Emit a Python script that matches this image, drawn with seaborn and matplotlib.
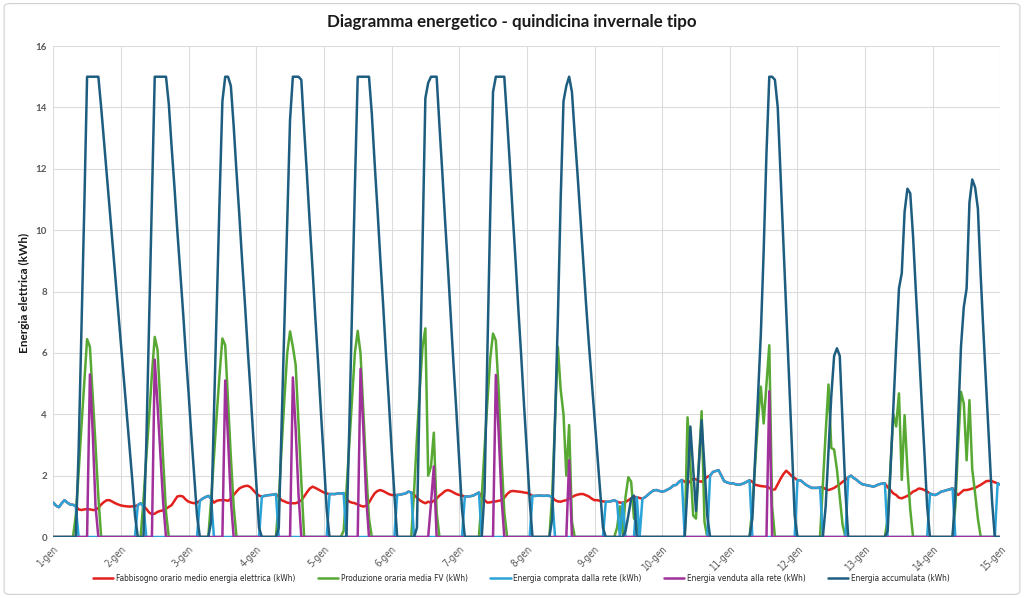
import matplotlib
matplotlib.use("Agg")
import matplotlib.pyplot as plt
import pandas as pd
import seaborn as sns
from matplotlib import font_manager
from matplotlib.font_manager import FontProperties
from matplotlib.patches import FancyBboxPatch

# one line per day (24 hourly values), last value = 15-gen 00:00
fabbisogno = [
    1.12, 1.02, 0.97, 1.1, 1.2, 1.12, 1.06, 1.05, 1.0, 0.9, 0.88, 0.9, 0.91, 0.9, 0.88, 0.88, 0.95, 1.06, 1.14, 1.2, 1.2, 1.15, 1.1, 1.06,
    1.03, 1.01, 1.0, 0.99, 1.0, 1.0, 1.04, 1.1, 1.0, 0.92, 0.8, 0.74, 0.76, 0.82, 0.85, 0.87, 0.92, 0.98, 1.04, 1.18, 1.32, 1.34, 1.32, 1.22,
    1.15, 1.12, 1.1, 1.12, 1.18, 1.25, 1.3, 1.34, 1.25, 1.12, 1.18, 1.2, 1.2, 1.2, 1.18, 1.25, 1.37, 1.48, 1.58, 1.63, 1.66, 1.67, 1.62, 1.52,
    1.42, 1.35, 1.32, 1.34, 1.36, 1.37, 1.38, 1.4, 1.3, 1.2, 1.16, 1.12, 1.1, 1.1, 1.1, 1.14, 1.2, 1.32, 1.46, 1.58, 1.64, 1.6, 1.55, 1.5,
    1.45, 1.42, 1.4, 1.4, 1.4, 1.42, 1.42, 1.43, 1.25, 1.15, 1.12, 1.1, 1.06, 1.02, 0.99, 1.02, 1.12, 1.28, 1.42, 1.5, 1.53, 1.5, 1.45, 1.4,
    1.37, 1.36, 1.37, 1.38, 1.4, 1.42, 1.48, 1.45, 1.38, 1.28, 1.2, 1.14, 1.1, 1.15, 1.12, 1.18, 1.25, 1.35, 1.42, 1.5, 1.53, 1.5, 1.45, 1.4,
    1.37, 1.35, 1.32, 1.32, 1.33, 1.35, 1.4, 1.45, 1.3, 1.2, 1.12, 1.13, 1.15, 1.16, 1.18, 1.2, 1.28, 1.4, 1.48, 1.5, 1.49, 1.48, 1.47, 1.45,
    1.44, 1.4, 1.34, 1.34, 1.35, 1.35, 1.34, 1.35, 1.34, 1.3, 1.2, 1.16, 1.15, 1.18, 1.2, 1.25, 1.3, 1.35, 1.38, 1.4, 1.4, 1.36, 1.32, 1.25,
    1.2, 1.2, 1.18, 1.16, 1.15, 1.15, 1.17, 1.2, 1.15, 1.12, 1.12, 1.14, 1.2, 1.26, 1.3, 1.3, 1.27, 1.25, 1.3, 1.38, 1.46, 1.52, 1.53, 1.5,
    1.48, 1.5, 1.55, 1.6, 1.68, 1.7, 1.8, 1.86, 1.8, 1.75, 1.82, 1.9, 1.88, 1.82, 1.8, 1.88, 1.96, 2.0, 2.12, 2.15, 2.18, 2.0, 1.82, 1.78,
    1.75, 1.75, 1.72, 1.7, 1.72, 1.75, 1.8, 1.85, 1.8, 1.7, 1.68, 1.66, 1.65, 1.64, 1.6, 1.54, 1.55, 1.72, 1.9, 2.05, 2.16, 2.08, 1.98, 1.92,
    1.85, 1.85, 1.78, 1.7, 1.65, 1.6, 1.6, 1.6, 1.62, 1.62, 1.56, 1.53, 1.56, 1.6, 1.66, 1.72, 1.8, 1.86, 1.95, 2.0, 1.92, 1.86, 1.78, 1.72,
    1.7, 1.68, 1.66, 1.64, 1.68, 1.72, 1.74, 1.75, 1.62, 1.53, 1.42, 1.37, 1.28, 1.26, 1.3, 1.34, 1.4, 1.48, 1.52, 1.58, 1.57, 1.53, 1.48, 1.42,
    1.38, 1.37, 1.42, 1.48, 1.5, 1.53, 1.55, 1.59, 1.45, 1.37, 1.45, 1.53, 1.53, 1.55, 1.58, 1.6, 1.65, 1.7, 1.76, 1.82, 1.83, 1.82, 1.78, 1.75,
    1.7,
]

produzione_fv = [
    0, 0, 0, 0, 0, 0, 0, 0, 0.7, 2.1, 3.6, 5.0, 6.45, 6.2, 4.6, 3.0, 1.3, 0, 0, 0, 0, 0, 0, 0,
    0, 0, 0, 0, 0, 0, 0, 0, 1.2, 2.6, 3.9, 5.3, 6.52, 6.1, 4.3, 2.5, 0.8, 0, 0, 0, 0, 0, 0, 0,
    0, 0, 0, 0, 0, 0, 0, 0, 1.2, 2.6, 4.0, 5.3, 6.47, 6.25, 4.4, 2.6, 1.0, 0, 0, 0, 0, 0, 0, 0,
    0, 0, 0, 0, 0, 0, 0, 0, 1.2, 2.9, 4.5, 6.0, 6.7, 6.2, 5.6, 3.7, 1.8, 0, 0, 0, 0, 0, 0, 0,
    0, 0, 0, 0, 0, 0, 0, 0.2, 1.5, 3.0, 4.5, 6.0, 6.72, 5.98, 4.1, 2.2, 0.6, 0, 0, 0, 0, 0, 0, 0,
    0, 0, 0, 0, 0, 0, 0, 0, 1.5, 3.2, 4.8, 6.2, 6.8, 2.0, 2.3, 3.4, 0.8, 0, 0, 0, 0, 0, 0, 0,
    0, 0, 0, 0, 0, 0, 0, 0, 1.3, 2.9, 4.4, 5.8, 6.63, 6.4, 4.8, 2.6, 0.8, 0, 0, 0, 0, 0, 0, 0,
    0, 0, 0, 0, 0, 0, 0, 0, 0, 1.4, 3.8, 6.2, 4.8, 4.0, 2.0, 3.65, 0.5, 0, 0, 0, 0, 0, 0, 0,
    0, 0, 0, 0, 0, 0, 0, 0, 0.3, 1.0, 0.1, 1.3, 1.95, 1.8, 0.6, 0.5, 0, 0, 0, 0, 0, 0, 0, 0,
    0, 0, 0, 0, 0, 0, 0, 0, 0, 3.9, 2.3, 0.7, 0.6, 2.4, 4.1, 0.5, 0, 0, 0, 0, 0, 0, 0, 0,
    0, 0, 0, 0, 0, 0, 0, 0, 1.0, 2.4, 3.8, 4.9, 3.7, 5.0, 6.25, 1.0, 0, 0, 0, 0, 0, 0, 0, 0,
    0, 0, 0, 0, 0, 0, 0, 0, 0, 1.7, 3.4, 4.97, 2.9, 2.85, 2.2, 1.3, 0.4, 0, 0, 0, 0, 0, 0, 0,
    0, 0, 0, 0, 0, 0, 0, 0, 0.6, 2.3, 4.0, 3.6, 4.68, 1.86, 3.97, 2.2, 0.9, 0, 0, 0, 0, 0, 0, 0,
    0, 0, 0, 0, 0, 0, 0, 0, 1.0, 3.0, 4.73, 4.35, 2.5, 4.46, 2.2, 1.43, 0.6, 0, 0, 0, 0, 0, 0, 0,
    0,
]

energia_comprata = [
    1.12, 1.02, 0.97, 1.1, 1.2, 1.12, 1.06, 1.05, 1.0, 0, 0, 0, 0, 0, 0, 0, 0, 0, 0, 0, 0, 0, 0, 0,
    0, 0, 0, 0, 0, 0, 1.04, 1.1, 1.0, 0, 0, 0, 0, 0, 0, 0, 0, 0, 0, 0, 0, 0, 0, 0,
    0, 0, 0, 0, 1.18, 1.25, 1.3, 1.34, 1.25, 0, 0, 0, 0, 0, 0, 0, 0, 0, 0, 0, 0, 0, 0, 0,
    0, 0, 1.32, 1.34, 1.36, 1.37, 1.38, 1.4, 0, 0, 0, 0, 0, 0, 0, 0, 0, 0, 0, 0, 0, 0, 0, 0,
    0, 0, 1.4, 1.4, 1.4, 1.42, 1.42, 1.43, 0, 0, 0, 0, 0, 0, 0, 0, 0, 0, 0, 0, 0, 0, 0, 0,
    0, 0, 1.37, 1.38, 1.4, 1.42, 1.48, 1.45, 0, 0, 0, 0, 0, 0, 0, 0, 0, 0, 0, 0, 0, 0, 0, 0,
    0, 0, 1.32, 1.32, 1.33, 1.35, 1.4, 1.45, 0, 0, 0, 0, 0, 0, 0, 0, 0, 0, 0, 0, 0, 0, 0, 0,
    0, 0, 1.34, 1.34, 1.35, 1.35, 1.34, 1.35, 1.34, 1.3, 0, 0, 0, 0, 0, 0, 0, 0, 0, 0, 0, 0, 0, 0,
    0, 0, 0, 0, 1.15, 1.15, 1.17, 1.2, 1.15, 0, 1.12, 0, 0, 0, 0, 1.3, 0, 1.25, 1.3, 1.38, 1.46, 1.52, 1.53, 1.5,
    1.48, 1.5, 1.55, 1.6, 1.68, 1.7, 1.8, 1.86, 0, 0, 0, 0, 0, 0, 0, 0, 0, 2.0, 2.12, 2.15, 2.18, 2.0, 1.82, 1.78,
    1.75, 1.75, 1.72, 1.7, 1.72, 1.75, 1.8, 1.85, 0, 0, 0, 0, 0, 0, 0, 0, 0, 0, 0, 0, 0, 0, 0, 0,
    1.85, 1.85, 1.78, 1.7, 1.65, 1.6, 1.6, 1.6, 1.62, 0, 0, 0, 0, 0, 0, 0, 0, 0, 1.95, 2.0, 1.92, 1.86, 1.78, 1.72,
    1.7, 1.68, 1.66, 1.64, 1.68, 1.72, 1.74, 1.75, 0, 0, 0, 0, 0, 0, 0, 0, 0, 0, 0, 0, 0, 0, 0, 1.42,
    1.38, 1.37, 1.42, 1.48, 1.5, 1.53, 1.55, 1.59, 0, 0, 0, 0, 0, 0, 0, 0, 0, 0, 0, 0, 0, 0, 0, 1.75,
    1.7,
]

energia_venduta = [
    0, 0, 0, 0, 0, 0, 0, 0, 0, 0, 0, 0, 0, 5.3, 3.4, 1.0, 0, 0, 0, 0, 0, 0, 0, 0,
    0, 0, 0, 0, 0, 0, 0, 0, 0, 0, 0, 0, 5.78, 4.3, 2.7, 1.1, 0, 0, 0, 0, 0, 0, 0, 0,
    0, 0, 0, 0, 0, 0, 0, 0, 0, 0, 0, 0, 0, 5.1, 3.2, 1.2, 0, 0, 0, 0, 0, 0, 0, 0,
    0, 0, 0, 0, 0, 0, 0, 0, 0, 0, 0, 0, 0, 5.2, 3.5, 1.4, 0, 0, 0, 0, 0, 0, 0, 0,
    0, 0, 0, 0, 0, 0, 0, 0, 0, 0, 0, 0, 0, 5.48, 3.5, 1.3, 0, 0, 0, 0, 0, 0, 0, 0,
    0, 0, 0, 0, 0, 0, 0, 0, 0, 0, 0, 0, 0, 0, 1.1, 2.3, 0, 0, 0, 0, 0, 0, 0, 0,
    0, 0, 0, 0, 0, 0, 0, 0, 0, 0, 0, 0, 0, 5.28, 3.4, 1.3, 0, 0, 0, 0, 0, 0, 0, 0,
    0, 0, 0, 0, 0, 0, 0, 0, 0, 0, 0, 0, 0, 0, 0, 2.5, 0, 0, 0, 0, 0, 0, 0, 0,
    0, 0, 0, 0, 0, 0, 0, 0, 0, 0, 0, 0, 0, 0, 0, 0, 0, 0, 0, 0, 0, 0, 0, 0,
    0, 0, 0, 0, 0, 0, 0, 0, 0, 0, 0, 0, 0, 0, 0, 0, 0, 0, 0, 0, 0, 0, 0, 0,
    0, 0, 0, 0, 0, 0, 0, 0, 0, 0, 0, 0, 0, 0, 4.75, 0, 0, 0, 0, 0, 0, 0, 0, 0,
    0, 0, 0, 0, 0, 0, 0, 0, 0, 0, 0, 0, 0, 0, 0, 0, 0, 0, 0, 0, 0, 0, 0, 0,
    0, 0, 0, 0, 0, 0, 0, 0, 0, 0, 0, 0, 0, 0, 0, 0, 0, 0, 0, 0, 0, 0, 0, 0,
    0, 0, 0, 0, 0, 0, 0, 0, 0, 0, 0, 0, 0, 0, 0, 0, 0, 0, 0, 0, 0, 0, 0, 0,
    0,
]

energia_accumulata = [
    0, 0, 0, 0, 0, 0, 0, 0, 0, 2.8, 6.7, 10.7, 15, 15, 15, 15, 15, 14.0, 12.9, 11.8, 10.7, 9.6, 8.5, 7.4,
    6.3, 5.2, 4.1, 3.0, 1.9, 0.7, 0, 0, 0, 3.0, 7.0, 11.0, 15, 15, 15, 15, 15, 14.1, 12.7, 11.4, 10.0, 8.7, 7.4, 6.0,
    4.7, 3.3, 2.0, 0.7, 0, 0, 0, 0, 0.5, 4.0, 7.5, 11.0, 14.2, 15, 15, 14.7, 13.4, 11.9, 10.5, 9.0, 7.6, 6.1, 4.7, 3.2,
    1.8, 0.3, 0, 0, 0, 0, 0, 0, 0.3, 3.6, 7.0, 10.3, 13.6, 15, 15, 15, 14.9, 13.3, 11.8, 10.2, 8.7, 7.1, 5.6, 4.0,
    2.5, 0.9, 0, 0, 0, 0, 0, 0, 0, 3.5, 7.5, 11.4, 15, 15, 15, 15, 15, 13.8, 12.2, 10.7, 9.1, 7.6, 6.0, 4.5,
    2.9, 1.4, 0, 0, 0, 0, 0, 0, 0, 0.3, 4.8, 9.5, 14.3, 14.8, 15, 15, 15, 13.4, 11.9, 10.3, 8.8, 7.2, 5.6, 4.1,
    2.5, 0.9, 0, 0, 0, 0, 0, 0, 0, 1.5, 6.0, 10.5, 14.5, 15, 15, 15, 15, 13.6, 12.1, 10.5, 9.0, 7.4, 5.9, 4.3,
    2.8, 1.2, 0, 0, 0, 0, 0, 0, 0, 0.6, 3.8, 7.1, 11.0, 14.2, 14.7, 15, 14.5, 13.1, 11.8, 10.4, 9.0, 7.6, 6.3, 5.1,
    3.9, 2.7, 1.5, 0.3, 0, 0, 0, 0, 0, 0, 0, 0.2, 0.7, 1.25, 1.35, 0, 0, 0, 0, 0, 0, 0, 0, 0,
    0, 0, 0, 0, 0, 0, 0, 0, 0, 1.6, 3.6, 2.2, 0.85, 2.3, 3.8, 2.3, 0.7, 0, 0, 0, 0, 0, 0, 0,
    0, 0, 0, 0, 0, 0, 0, 0, 0.6, 2.6, 4.6, 6.6, 9.3, 12.5, 15, 15, 14.9, 14.0, 11.8, 9.6, 7.4, 5.2, 3.0, 0.7,
    0, 0, 0, 0, 0, 0, 0, 0, 0, 0, 1.0, 2.8, 4.6, 5.9, 6.15, 5.9, 3.7, 1.5, 0, 0, 0, 0, 0, 0,
    0, 0, 0, 0, 0, 0, 0, 0, 0.2, 2.2, 4.2, 6.2, 8.1, 8.6, 10.6, 11.35, 11.2, 9.8, 8.0, 6.3, 4.5, 2.8, 1.0, 0,
    0, 0, 0, 0, 0, 0, 0, 0, 1.4, 3.8, 6.2, 7.5, 8.1, 10.9, 11.65, 11.4, 10.7, 8.5, 6.6, 4.8, 3.0, 1.2, 0, 0,
    0,
]

etichette_giorni = ["1-gen", "2-gen", "3-gen", "4-gen", "5-gen", "6-gen", "7-gen", "8-gen",
                    "9-gen", "10-gen", "11-gen", "12-gen", "13-gen", "14-gen", "15-gen"]

serie = {
    "Fabbisogno orario medio energia elettrica (kWh)": fabbisogno,
    "Produzione oraria media FV (kWh)": produzione_fv,
    "Energia comprata dalla rete (kWh)": energia_comprata,
    "Energia venduta alla rete (kWh)": energia_venduta,
    "Energia accumulata (kWh)": energia_accumulata,
}
colori = ["#E3211C", "#58A834", "#2AA3D8", "#A0309A", "#1D5D80"]

frames = []
for nome, valori in serie.items():
    frames.append(pd.DataFrame({"ora": range(len(valori)), "kWh": valori, "serie": nome}))
df = pd.concat(frames, ignore_index=True)

sns.set_theme(style="whitegrid")
plt.rcParams["font.family"] = ["Lato", "DejaVu Sans"]

# a narrow face for the small texts, if one is installed
narrow_fp = None
for f in font_manager.fontManager.ttflist:
    if f.style == "normal" and f.weight in (400, "normal", "regular") and (
            "Narrow" in f.name or "Condensed" in f.name or f.stretch in ("condensed", "semi-condensed")):
        narrow_fp = f.fname
        break

fig = plt.figure(figsize=(10.24, 5.98), dpi=100)
renderer = fig.canvas.get_renderer()


def small_font(sample, target_px):
    fp = FontProperties(fname=narrow_fp) if narrow_fp else FontProperties(family="Liberation Sans")
    fp.set_size(10)
    t = fig.text(0, 0, sample, fontproperties=fp)
    w = t.get_window_extent(renderer).width
    t.remove()
    fp.set_size(10 * target_px / w)
    return fp


legend_fp = small_font("Fabbisogno orario medio energia elettrica (kWh)", 180)
tick_fp = small_font("10-gen", 31)

ax = fig.add_axes([0.052, 0.102, 0.925, 0.821])

sns.lineplot(data=df, x="ora", y="kWh", hue="serie", palette=colori,
             linewidth=1.8, errorbar=None, ax=ax)

ax.set_xlim(0, 336)
ax.set_ylim(0, 16)
ax.set_yticks(range(0, 17, 2))
ax.set_xticks(range(0, 337, 24))
ax.set_xticklabels(etichette_giorni, rotation=45, ha="right", rotation_mode="anchor",
                   color="#595959")
for lab in ax.get_xticklabels():
    lab.set_fontproperties(tick_fp)
ax.tick_params(axis="y", length=0, labelsize=7, labelcolor="#595959", pad=4.5)
ax.tick_params(axis="x", length=0, pad=5)
for lab in ax.get_yticklabels():
    lab.set_fontweight("bold")
ax.set_xlabel("")
ax.set_ylabel("")
ax.grid(color="#DCDCDC", linewidth=0.8)
for s in ax.spines.values():
    s.set_visible(False)

handles, labels = ax.get_legend_handles_labels()
ax.get_legend().remove()
fig.legend(handles, labels, loc="center", bbox_to_anchor=(0.509, 0.033), ncol=5,
           frameon=False, handlelength=2.5, columnspacing=2.7, handletextpad=0.3,
           prop=legend_fp)

fig.text(0.5, 0.963, "Diagramma energetico - quindicina invernale tipo",
         ha="center", va="center", fontsize=12.2, fontweight="bold", color="#1a1a1a")
fig.text(0.024, 0.51, "Energia elettrica (kWh)", rotation=90, ha="center", va="center",
         fontsize=8.5, fontweight="bold", color="#1a1a1a")

fig.patches.append(FancyBboxPatch((0.004, 0.006), 0.992, 0.988,
                                  boxstyle="round,pad=0,rounding_size=0.006",
                                  transform=fig.transFigure, fill=False,
                                  edgecolor="#D0D0D0", linewidth=0.8))

fig.savefig("out.png", dpi=100)
